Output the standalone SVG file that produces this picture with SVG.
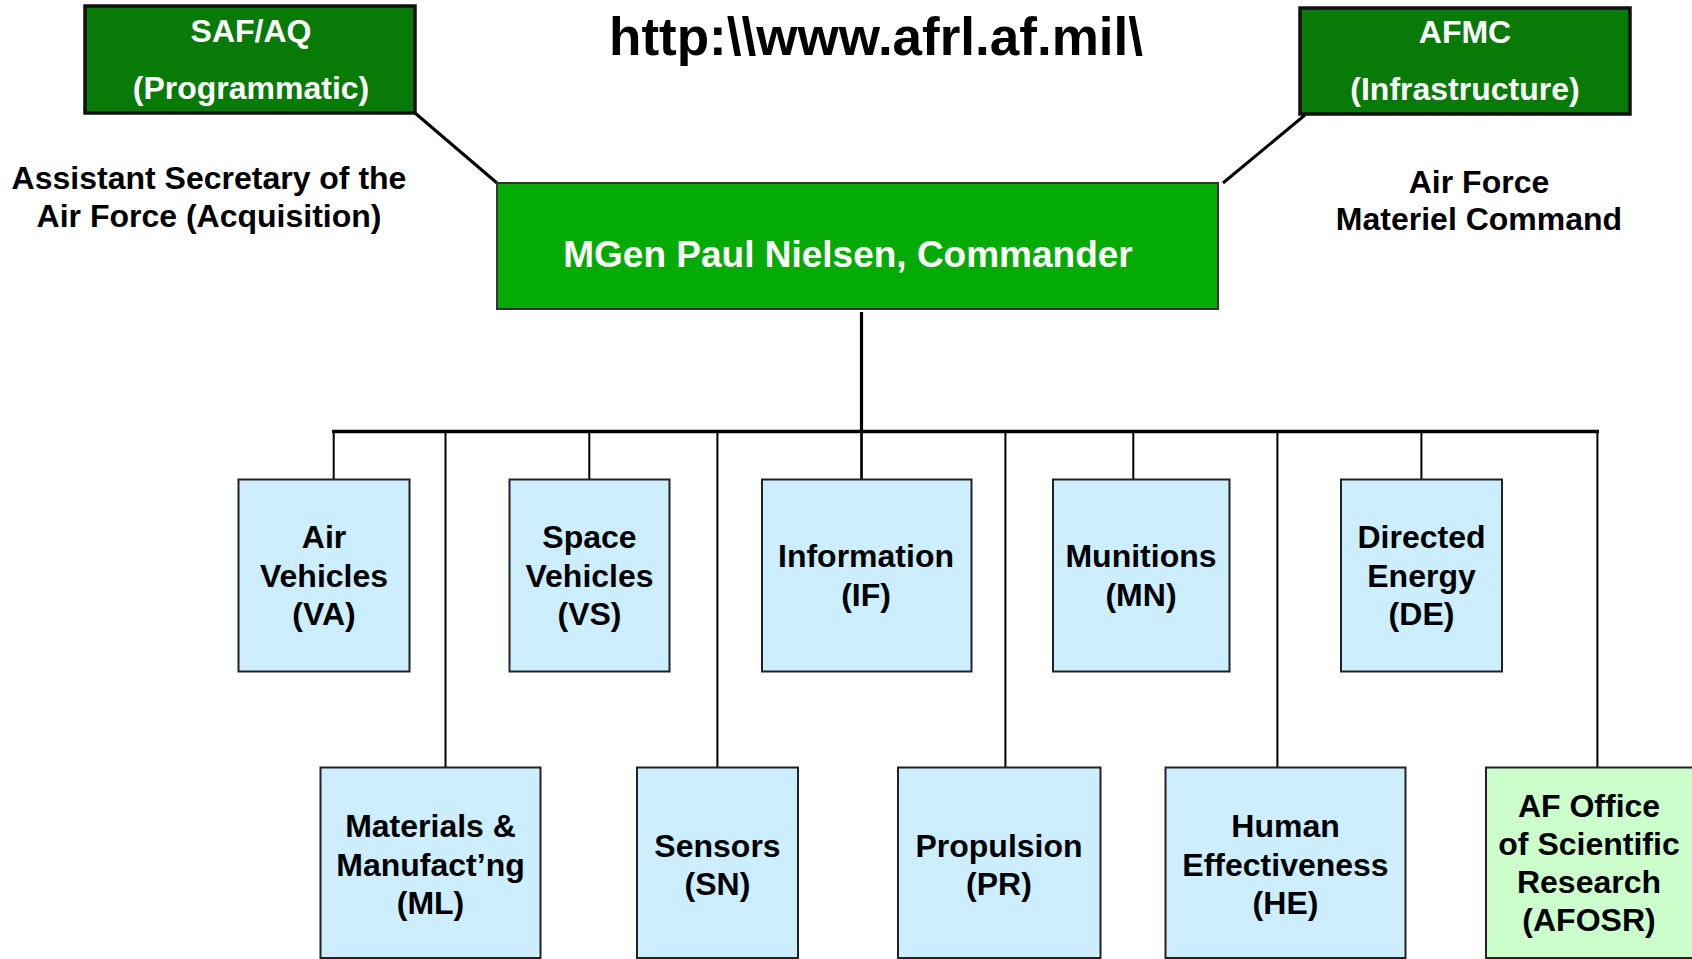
<svg xmlns="http://www.w3.org/2000/svg" width="1692" height="959" viewBox="0 0 1692 959">
<style>
text{font-family:"Liberation Sans",Arial,Helvetica,sans-serif;font-weight:bold;text-anchor:middle}
.t{font-size:32px;fill:#000}
.w{font-size:32px;fill:#fff}
.dark{fill:#077a07;stroke:#111;stroke-width:3.5}
.cmd{fill:#04ab04;stroke:#333;stroke-width:2}
.lab{fill:#cceeff;stroke:#222;stroke-width:2}
.osr{fill:#ccffcc;stroke:#222;stroke-width:2}
.c{stroke:#000;fill:none}
</style>
<rect width="1692" height="959" fill="#fff"/>
<text x="876" y="55" style="font-size:53px">http:\\www.afrl.af.mil\</text>
<text class="t" x="209" y="189">Assistant Secretary of the</text>
<text class="t" x="209" y="227">Air Force (Acquisition)</text>
<text class="t" x="1479" y="193">Air Force</text>
<text class="t" x="1479" y="230">Materiel Command</text>
<g id="connectors">
<line class="c" stroke-width="3" x1="415" y1="113" x2="497" y2="183"/>
<line class="c" stroke-width="3" x1="1305" y1="115" x2="1223" y2="183"/>
<line class="c" stroke-width="3.2" x1="861.5" y1="312" x2="861.5" y2="431"/>
<line class="c" stroke-width="3.6" x1="332" y1="431.5" x2="1599" y2="431.5"/>
<g stroke-width="2">
<line class="c" x1="333.7" y1="431" x2="333.7" y2="479"/>
<line class="c" x1="589.3" y1="431" x2="589.3" y2="479"/>
<line class="c" stroke-width="2.7" x1="861.5" y1="431" x2="861.5" y2="479"/>
<line class="c" x1="1133.3" y1="431" x2="1133.3" y2="479"/>
<line class="c" x1="1421.4" y1="431" x2="1421.4" y2="479"/>
<line class="c" x1="445.5" y1="431" x2="445.5" y2="767"/>
<line class="c" x1="717.4" y1="431" x2="717.4" y2="767"/>
<line class="c" x1="1005.4" y1="431" x2="1005.4" y2="767"/>
<line class="c" x1="1277.4" y1="431" x2="1277.4" y2="767"/>
<line class="c" x1="1597.4" y1="431" x2="1597.4" y2="767"/>
</g>
</g>
<g id="saf">
<rect class="dark" x="85" y="6" width="330" height="107"/>
<text class="w" x="251" y="42">SAF/AQ</text>
<text class="w" x="251" y="99">(Programmatic)</text>
</g>
<g id="afmc">
<rect class="dark" x="1300" y="8" width="330" height="106"/>
<text class="w" x="1465" y="43">AFMC</text>
<text class="w" x="1465" y="100">(Infrastructure)</text>
</g>
<g id="commander">
<rect class="cmd" x="497" y="183" width="721" height="126"/>
<text x="848" y="267" style="font-size:37px;fill:#fff">MGen Paul Nielsen, Commander</text>
</g>
<g id="va">
<rect class="lab" x="238.5" y="479.5" width="171" height="192"/>
<text class="t" x="324" y="548">Air</text>
<text class="t" x="324" y="587">Vehicles</text>
<text class="t" x="324" y="625">(VA)</text>
</g>
<g id="vs">
<rect class="lab" x="509.5" y="479.5" width="160" height="192"/>
<text class="t" x="589.5" y="548">Space</text>
<text class="t" x="589.5" y="587">Vehicles</text>
<text class="t" x="589.5" y="625">(VS)</text>
</g>
<g id="if">
<rect class="lab" x="762" y="479.5" width="209.5" height="192"/>
<text class="t" x="866" y="567">Information</text>
<text class="t" x="866" y="606">(IF)</text>
</g>
<g id="mn">
<rect class="lab" x="1053" y="479.5" width="176.5" height="192"/>
<text class="t" x="1141" y="567">Munitions</text>
<text class="t" x="1141" y="606">(MN)</text>
</g>
<g id="de">
<rect class="lab" x="1341" y="479.5" width="161" height="192"/>
<text class="t" x="1421.5" y="548">Directed</text>
<text class="t" x="1421.5" y="587">Energy</text>
<text class="t" x="1421.5" y="625">(DE)</text>
</g>
<g id="ml">
<rect class="lab" x="320.5" y="767.5" width="220" height="190.5"/>
<text class="t" x="430.5" y="837">Materials &amp;</text>
<text class="t" x="430.5" y="876">Manufact’ng</text>
<text class="t" x="430.5" y="914">(ML)</text>
</g>
<g id="sn">
<rect class="lab" x="637" y="767.5" width="161" height="190.5"/>
<text class="t" x="717.5" y="857">Sensors</text>
<text class="t" x="717.5" y="895">(SN)</text>
</g>
<g id="pr">
<rect class="lab" x="898" y="767.5" width="202.5" height="190.5"/>
<text class="t" x="999" y="857">Propulsion</text>
<text class="t" x="999" y="895">(PR)</text>
</g>
<g id="he">
<rect class="lab" x="1165.5" y="767.5" width="240" height="190.5"/>
<text class="t" x="1285.5" y="837">Human</text>
<text class="t" x="1285.5" y="876">Effectiveness</text>
<text class="t" x="1285.5" y="914">(HE)</text>
</g>
<g id="afosr">
<rect class="osr" x="1486" y="767.5" width="210" height="190.5"/>
<text class="t" x="1589" y="817">AF Office</text>
<text class="t" x="1589" y="855">of Scientific</text>
<text class="t" x="1589" y="893">Research</text>
<text class="t" x="1589" y="931">(AFOSR)</text>
</g>
</svg>
